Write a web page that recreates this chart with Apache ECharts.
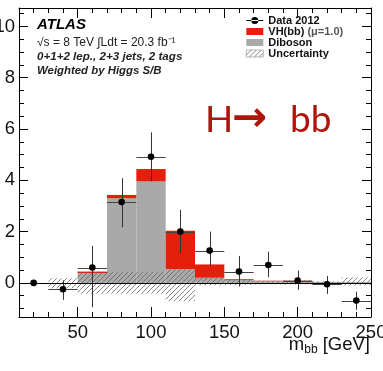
<!DOCTYPE html>
<html>
<head>
<meta charset="utf-8">
<script src="https://cdn.jsdelivr.net/npm/echarts@6/dist/echarts.min.js"></script>
<style>
  html, body { margin: 0; padding: 0; background: #fff; }
  #chart { width: 383px; height: 371px; }
</style>
</head>
<body>
<div id="chart"></div>
<script>
// m_bb bins (GeV), bin centres
var binCenters = [20, 40, 60, 80, 100, 120, 140, 160, 180, 200, 220, 240];
var binWidth = 20;

// background-subtracted data and its error bar ends
var dataValues = [0, -0.25, 0.6, 3.15, 4.92, 2.0, 1.26, 0.44, 0.7, 0.09, -0.05, -0.69];
var dataLow    = [-0.04, -0.66, -0.95, 2.17, 3.96, 1.16, 0.65, -0.14, 0.22, -0.27, -0.43, -1.05];
var dataHigh   = [0.04, 0.1, 1.44, 4.08, 5.87, 2.85, 2.0, 1.05, 1.22, 0.48, 0.27, -0.34];

// stacked expectations
var dibosonValues = [0, 0, 0.38, 3.3, 3.96, 0.53, 0.2, 0.12, 0.08, 0.1, 0.04, 0.04];
var vhValues      = [0, 0, 0.06, 0.13, 0.48, 1.5, 0.52, 0.03, 0.01, 0.01, 0, 0];

// uncertainty band
var uncLow  = [0, -0.21, -0.42, -0.42, -0.42, -0.72, -0.1, -0.08, -0.06, -0.06, -0.08, -0.1];
var uncHigh = [0, 0.18, 0.44, 0.43, 0.43, 0.53, 0.22, 0.12, 0.08, 0.1, 0.06, 0.22];

// axis ticks
var xLabels = [50, 100, 150, 200, 250];
var xMinor = [];
for (var v = 10; v <= 250; v += 10) xMinor.push(v);
var yLabels = [0, 2, 4, 6, 8, 10];
var yMinor = [];
for (var w = -1; w <= 10.5; w += 0.5) yMinor.push(w);

var FONT = '"Liberation Sans", Arial, sans-serif';
var RED = '#e41f0c';
var GREY = '#a9a9a9';
var HRED = '#b0140a';

// hatch pattern for the uncertainty
function makeHatch() {
    var c = document.createElement('canvas');
    c.width = 5; c.height = 5;
    var ctx = c.getContext('2d');
    ctx.strokeStyle = '#6a6a6a';
    ctx.lineWidth = 0.8;
    ctx.beginPath();
    ctx.moveTo(-1, 6); ctx.lineTo(6, -1);
    ctx.moveTo(-1, 1); ctx.lineTo(1, -1);
    ctx.moveTo(4, 6); ctx.lineTo(6, 4);
    ctx.stroke();
    return { image: c, repeat: 'repeat' };
}
var hatch = makeHatch();

var barData = function (bottoms, tops) {
    return binCenters.map(function (c, i) { return [c, bottoms[i], tops[i]]; });
};
var dibosonData = barData(binCenters.map(function () { return 0; }), dibosonValues);
var vhData = barData(dibosonValues, dibosonValues.map(function (d, i) { return d + vhValues[i]; }));
var uncData = barData(uncLow, uncHigh);
var pointData = binCenters.map(function (c, i) { return [c, dataValues[i], dataLow[i], dataHigh[i]]; });

function renderBin(params, api) {
    var c = api.value(0), lo = api.value(1), hi = api.value(2);
    if (hi - lo <= 0) return null;
    var p0 = api.coord([c - binWidth / 2, hi]);
    var p1 = api.coord([c + binWidth / 2, lo]);
    return {
        type: 'rect',
        shape: { x: p0[0], y: p0[1], width: p1[0] - p0[0], height: p1[1] - p0[1] },
        style: { fill: api.visual('color') }
    };
}

function renderPoint(params, api) {
    var x = api.value(0), y = api.value(1), lo = api.value(2), hi = api.value(3);
    var p = api.coord([x, y]);
    var pl = api.coord([x - binWidth / 2, y]);
    var pr = api.coord([x + binWidth / 2, y]);
    var pt = api.coord([x, hi]);
    var pb = api.coord([x, lo]);
    var px = Math.round(p[0]) + 0.5, py = Math.round(p[1]) + 0.5;
    return {
        type: 'group',
        children: [
            { type: 'line', shape: { x1: pl[0], y1: py, x2: pr[0], y2: py }, style: { stroke: '#444', lineWidth: 1 } },
            { type: 'line', shape: { x1: px, y1: pt[1], x2: px, y2: pb[1] }, style: { stroke: '#333', lineWidth: 1 } },
            { type: 'circle', shape: { cx: p[0], cy: p[1], r: 3.3 }, style: { fill: '#000' } }
        ]
    };
}

function xAxisDef(pos, major) {
    return {
        type: 'value', min: 10, max: 250, position: pos,
        axisLine: { show: major, onZero: false, lineStyle: { color: '#000', width: 1 } },
        axisTick: { show: true, inside: true, length: major ? 10 : 5,
                    customValues: major ? xLabels : xMinor, lineStyle: { color: '#000' } },
        axisLabel: { show: major && pos === 'bottom', customValues: xLabels, margin: 6,
                     fontSize: 18.5, color: '#111', fontFamily: FONT },
        splitLine: { show: false }
    };
}
function yAxisDef(pos, major) {
    return {
        type: 'value', min: -1.33, max: 10.72, position: pos,
        axisLine: { show: major, onZero: false, lineStyle: { color: '#000', width: 1 } },
        axisTick: { show: true, inside: true, length: major ? 9 : 5,
                    customValues: major ? yLabels : yMinor, lineStyle: { color: '#000' } },
        axisLabel: { show: major && pos === 'left', customValues: yLabels, margin: 4,
                     fontSize: 18.5, color: '#111', fontFamily: FONT },
        splitLine: { show: false }
    };
}

var chart = echarts.init(document.getElementById('chart'));
chart.setOption({
    animation: false,
    backgroundColor: '#fff',
    grid: { left: 19, right: 12, top: 8, bottom: 54, containLabel: false, outerBoundsMode: 'none' },
    xAxis: [xAxisDef('bottom', true), xAxisDef('bottom', false), xAxisDef('top', true), xAxisDef('top', false)],
    yAxis: [yAxisDef('left', true), yAxisDef('left', false), yAxisDef('right', true), yAxisDef('right', false)],
    legend: {
        orient: 'vertical', left: 246, top: 15, padding: 0,
        itemWidth: 17, itemHeight: 7, itemGap: 0,
        textStyle: { fontFamily: FONT, fontSize: 11, fontWeight: 'bold', color: '#111', lineHeight: 10.8,
                     rich: { n: { fontFamily: FONT, fontSize: 11, color: '#555', lineHeight: 10.8 } } },
        formatter: function (name) {
            return name === 'VH(bb) (μ=1.0)' ? 'VH(bb) {n|(μ=1.0)}' : name;
        },
        data: [
            { name: 'Data 2012', icon: 'path://M0,3H17V4H0Z M5,3.5A3.5,3.5 0 1,0 12,3.5A3.5,3.5 0 1,0 5,3.5Z' },
            { name: 'VH(bb) (μ=1.0)', icon: 'rect' },
            { name: 'Diboson', icon: 'rect' },
            { name: 'Uncertainty', icon: 'rect', itemStyle: { color: hatch, borderColor: '#888', borderWidth: 0.6 } }
        ]
    },
    graphic: [
        { type: 'text', left: 37, top: 17, style: { text: 'ATLAS', font: 'italic bold 15px ' + FONT, fill: '#000' } },
        { type: 'text', left: 37, top: 37, style: { text: '√s = 8 TeV ∫Ldt = 20.3 fb⁻¹', font: '12px ' + FONT, fill: '#222' } },
        { type: 'text', left: 37, top: 51, style: { text: '0+1+2 lep., 2+3 jets, 2 tags', font: 'italic bold 11.6px ' + FONT, fill: '#222' } },
        { type: 'text', left: 37, top: 65, style: { text: 'Weighted by Higgs S/B', font: 'italic bold 11.4px ' + FONT, fill: '#222' } },
        { type: 'text', left: 205, top: 102, style: { text: 'H', font: '37px Lato, "Open Sans", sans-serif', fill: HRED } },
        { type: 'text', left: 232, top: 99, style: { text: '→', font: 'bold 42px "DejaVu Sans", sans-serif', fill: HRED } },
        { type: 'text', left: 290, top: 102, style: { text: 'bb', font: '37px Lato, "Open Sans", sans-serif', fill: HRED } },
        { type: 'text', right: 13, top: 335, style: {
            text: 'm{s|bb} [GeV]', font: '18.5px ' + FONT, fill: '#111',
            rich: { s: { fontSize: 12, fontFamily: FONT, padding: [10, 0, 0, 0] } } } }
    ],
    series: [
        { name: 'Diboson', type: 'custom', renderItem: renderBin, data: dibosonData, clip: true,
          itemStyle: { color: GREY }, encode: { x: 0, y: [1, 2] } },
        { name: 'VH(bb) (μ=1.0)', type: 'custom', renderItem: renderBin, data: vhData, clip: true,
          itemStyle: { color: RED }, encode: { x: 0, y: [1, 2] } },
        { name: 'Uncertainty', type: 'custom', renderItem: renderBin, data: uncData, clip: true,
          itemStyle: { color: hatch }, encode: { x: 0, y: [1, 2] },
          markLine: { silent: true, symbol: 'none', label: { show: false },
                      lineStyle: { color: '#000', width: 1, type: 'solid' }, data: [{ yAxis: 0 }] } },
        { name: 'Data 2012', type: 'custom', renderItem: renderPoint, data: pointData, clip: true,
          itemStyle: { color: '#000' }, encode: { x: 0, y: [1, 2, 3] } }
    ]
});
</script>
</body>
</html>
